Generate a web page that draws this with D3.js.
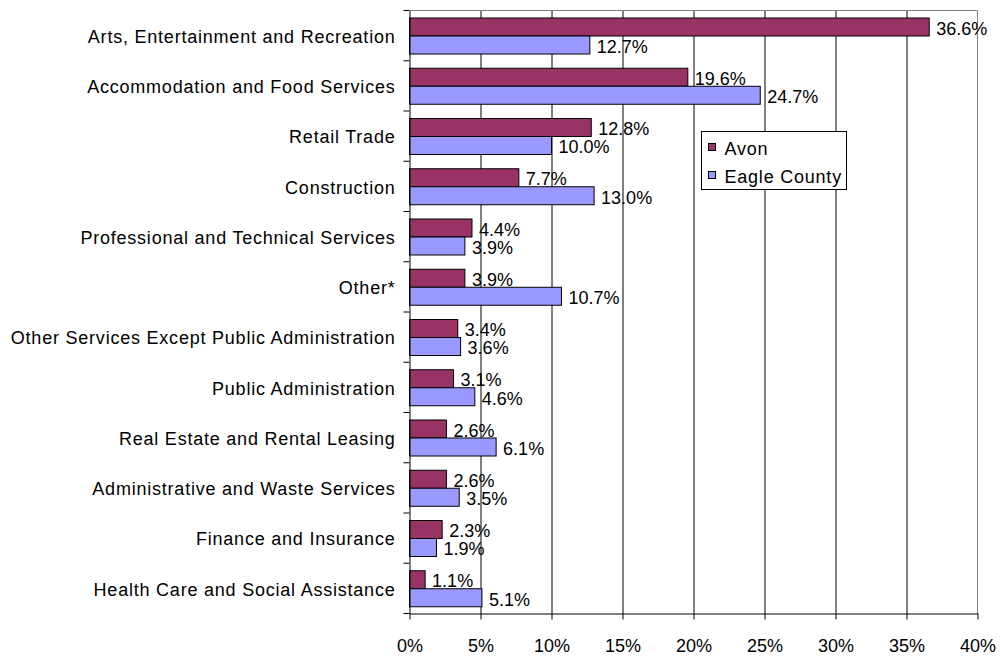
<!DOCTYPE html>
<meta charset="utf-8">
<title>Employment by Industry: Avon vs Eagle County</title>
<style>
body { margin:0; background:#fff; }
svg text { font-family: "Liberation Sans", Arial, sans-serif; font-size:18px; fill:#000; }
.cat text, .legend text { letter-spacing:0.78px; }
.grid line { stroke:#000; stroke-width:1px; }
.grid .domain { display:none; }
.axis .domain, .axis line { stroke:#000; stroke-width:1px; }
.bar { stroke:#000; stroke-width:1px; }
</style>
<body>
<div id="container"></div>
<script src="https://d3js.org/d3.v7.min.js"></script>
<script>
var width = 1000, height = 656;

// data
var categories = [
  "Arts, Entertainment and Recreation",
  "Accommodation and Food Services",
  "Retail Trade",
  "Construction",
  "Professional and Technical Services",
  "Other*",
  "Other Services Except Public Administration",
  "Public Administration",
  "Real Estate and Rental Leasing",
  "Administrative and Waste Services",
  "Finance and Insurance",
  "Health Care and Social Assistance"
];
var avon   = [36.6, 19.6, 12.8, 7.7, 4.4, 3.9, 3.4, 3.1, 2.6, 2.6, 2.3, 1.1];
var eagle  = [12.7, 24.7, 10.0, 13.0, 3.9, 10.7, 3.6, 4.6, 6.1, 3.5, 1.9, 5.1];
var seriesNames = ["Avon", "Eagle County"];
var seriesColors = ["#993366", "#9999FF"];
var xTicks = [0, 5, 10, 15, 20, 25, 30, 35, 40];

var plot = {left: 409.5, right: 977.5, top: 10.5, bottom: 613.5};

var svg = d3.select("#container").append("svg")
    .attr("width", width)
    .attr("height", height);

var x = d3.scaleLinear().domain([0, 40]).range([plot.left, plot.right]);
var y = d3.scaleBand().domain(categories).range([plot.top, plot.bottom]).padding(0);
var sub = d3.scaleBand().domain(seriesNames)
    .range([y.bandwidth() * 0.13, y.bandwidth() * 0.86]);

// vertical grid lines
svg.append("g")
    .attr("class", "grid")
    .attr("transform", "translate(0," + plot.bottom + ")")
    .call(d3.axisBottom(x).tickValues(xTicks.slice(1, -1))
      .tickSize(-(plot.bottom - plot.top)).tickFormat(""));

// top and right frame (grey)
svg.append("line")
    .attr("x1", plot.left).attr("x2", plot.right)
    .attr("y1", plot.top).attr("y2", plot.top)
    .attr("stroke", "#808080");
svg.append("line")
    .attr("x1", plot.right).attr("x2", plot.right)
    .attr("y1", plot.top).attr("y2", plot.bottom)
    .attr("stroke", "#808080");

var rows = categories.map(function(c, i) {
  return {cat: c, values: [avon[i], eagle[i]]};
});

var g = svg.selectAll(".row").data(rows).enter().append("g")
    .attr("class", "row")
    .attr("transform", function(d) { return "translate(0," + y(d.cat) + ")"; });

g.selectAll("rect").data(function(d) {
    return d.values.map(function(v, j) { return {name: seriesNames[j], v: v, j: j}; });
  }).enter().append("rect")
    .attr("class", "bar")
    .attr("x", x(0))
    .attr("y", function(d) { return Math.round(sub(d.name)) + 0.5; })
    .attr("width", function(d) { return x(d.v) - x(0); })
    .attr("height", Math.round(sub.bandwidth()))
    .attr("fill", function(d) { return seriesColors[d.j]; });

g.selectAll("text.val").data(function(d) {
    return d.values.map(function(v, j) { return {name: seriesNames[j], v: v}; });
  }).enter().append("text")
    .attr("class", "val")
    .attr("x", function(d) { return x(d.v) + 7; })
    .attr("y", function(d) { return sub(d.name) + sub.bandwidth() / 2 + 2; })
    .attr("dy", "0.35em")
    .text(function(d) { return d.v.toFixed(1) + "%"; });

// axes
var yAxis = svg.append("g")
    .attr("class", "axis cat")
    .attr("transform", "translate(" + plot.left + ",0)")
    .call(d3.axisLeft(y).tickSize(0).tickPadding(14).tickSizeOuter(0));
yAxis.selectAll("text").attr("dy", "0.4em");
// category boundary ticks
svg.append("g").selectAll("line")
    .data(categories.concat(["end"]))
    .enter().append("line")
    .attr("x1", plot.left - 6).attr("x2", plot.left)
    .attr("y1", function(d, i) { return plot.top + i * y.bandwidth(); })
    .attr("y2", function(d, i) { return plot.top + i * y.bandwidth(); })
    .attr("stroke", "#000");

svg.append("g")
    .attr("class", "axis")
    .attr("transform", "translate(0," + plot.bottom + ")")
    .call(d3.axisBottom(x).tickValues(xTicks).tickSize(6).tickSizeOuter(0)
      .tickPadding(20).tickFormat(function(d) { return d + "%"; }));

// legend
var legend = svg.append("g").attr("class", "legend").attr("transform", "translate(701.5,131.5)");
legend.append("rect")
    .attr("width", 145).attr("height", 58)
    .attr("fill", "#fff").attr("stroke", "#000");
seriesNames.forEach(function(name, i) {
  legend.append("rect")
      .attr("x", 7).attr("y", 12 + i * 28)
      .attr("width", 7).attr("height", 7)
      .attr("fill", seriesColors[i]).attr("stroke", "#000");
  legend.append("text")
      .attr("x", 23).attr("y", 17 + i * 28)
      .attr("dy", "0.35em")
      .text(name);
});
</script>
</body>
</html>
